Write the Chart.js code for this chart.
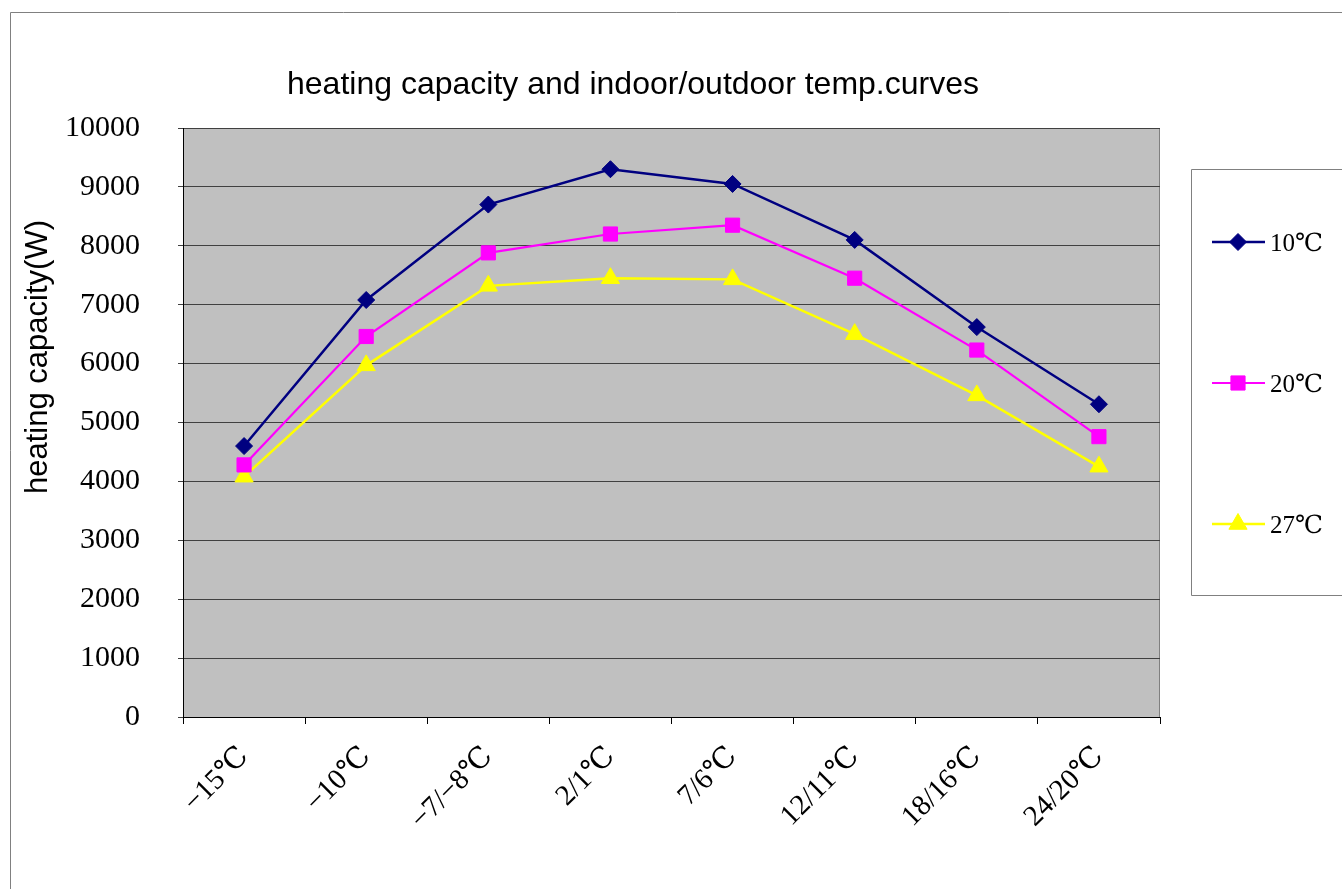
<!DOCTYPE html>
<html>
<head>
<meta charset="utf-8">
<script src="https://cdn.jsdelivr.net/npm/chart.js@4"></script>
<style>
  html, body { margin: 0; padding: 0; background: #fff; }
  #wrap { width: 1342px; height: 889px; position: relative; }
</style>
</head>
<body>
<div id="wrap"><canvas id="chart"></canvas></div>
<script>
const categories = ['−15℃', '−10℃', '−7/−8℃', '2/1℃', '7/6℃', '12/11℃', '18/16℃', '24/20℃'];
const seriesNames = ['10℃', '20℃', '27℃'];
const cap10 = [4600, 7080, 8700, 9300, 9050, 8100, 6620, 5310];
const cap20 = [4280, 6460, 7880, 8200, 8350, 7450, 6230, 4760];
const cap27 = [4080, 5970, 7320, 7450, 7430, 6500, 5460, 4250];
const yTicks = [0, 1000, 2000, 3000, 4000, 5000, 6000, 7000, 8000, 9000, 10000];

const serif = '"Liberation Serif", "DejaVu Serif", serif';
const sans = '"Liberation Sans", Arial, sans-serif';

// frame, plot background, title, axis title and legend box
const decor = {
  id: 'decor',
  beforeDraw(chart) {
    const { ctx, chartArea: a } = chart;
    ctx.save();
    ctx.fillStyle = '#fff';
    ctx.fillRect(0, 0, chart.width, chart.height);
    ctx.strokeStyle = '#808080';
    ctx.lineWidth = 1;
    ctx.beginPath();
    ctx.moveTo(10.5, chart.height);
    ctx.lineTo(10.5, 12.5);
    ctx.lineTo(chart.width, 12.5);
    ctx.stroke();
    ctx.fillStyle = '#c0c0c0';
    ctx.fillRect(a.left, a.top, a.right - a.left, a.bottom - a.top);
    ctx.strokeStyle = '#808080';
    ctx.strokeRect(a.left + 0.5, a.top + 0.5, a.right - a.left - 1, a.bottom - a.top);
    ctx.restore();
  },
  afterDraw(chart) {
    const { ctx } = chart;
    ctx.save();
    ctx.fillStyle = '#000';
    ctx.font = '32px ' + sans;
    ctx.textAlign = 'center';
    ctx.textBaseline = 'middle';
    ctx.fillText('heating capacity and indoor/outdoor temp.curves', 633, 85);

    ctx.save();
    ctx.translate(38, 357);
    ctx.rotate(-Math.PI / 2);
    ctx.font = '31px ' + sans;
    ctx.fillText('heating capacity(W)', 0, 0);
    ctx.restore();

    // legend
    ctx.strokeStyle = '#808080';
    ctx.lineWidth = 1;
    ctx.beginPath();
    ctx.moveTo(chart.width, 169.5);
    ctx.lineTo(1191.5, 169.5);
    ctx.lineTo(1191.5, 595.5);
    ctx.lineTo(chart.width, 595.5);
    ctx.stroke();
    const rows = [242, 383, 524];
    chart.data.datasets.forEach((ds, i) => {
      const y = rows[i];
      ctx.strokeStyle = ds.borderColor;
      ctx.lineWidth = ds.borderWidth;
      ctx.beginPath();
      ctx.moveTo(1212, y);
      ctx.lineTo(1265, y);
      ctx.stroke();
      ctx.fillStyle = ds.pointBackgroundColor;
      ctx.strokeStyle = ds.pointBorderColor;
      ctx.lineWidth = 1;
      Chart.helpers.drawPoint(ctx, { pointStyle: ds.pointStyle, radius: ds.pointRadius, borderWidth: 1, rotation: 0 }, 1238, y);
      ctx.fillStyle = '#000';
      ctx.font = '25px ' + serif;
      ctx.textAlign = 'left';
      ctx.fillText(ds.label, 1270, y + 2);
    });
    ctx.restore();
  }
};

function series(label, data, color, style, radius, width) {
  return {
    label, data,
    borderColor: color,
    backgroundColor: color,
    borderWidth: width,
    pointStyle: style,
    pointRadius: radius,
    pointHoverRadius: radius,
    pointBackgroundColor: color,
    pointBorderColor: color,
    pointBorderWidth: 1,
    tension: 0
  };
}

new Chart(document.getElementById('chart'), {
  type: 'line',
  data: {
    labels: categories,
    datasets: [
      series(seriesNames[0], cap10, '#000080', 'rectRot', 8.5, 2.5),
      series(seriesNames[1], cap20, '#ff00ff', 'rect', 10, 2.2),
      series(seriesNames[2], cap27, '#ffff00', 'triangle', 10.5, 2.5)
    ]
  },
  options: {
    responsive: true,
    maintainAspectRatio: false,
    animation: false,
    layout: { padding: { left: 10, top: 128, right: 182, bottom: 22 } },
    plugins: {
      legend: { display: false },
      title: { display: false },
      tooltip: { enabled: false }
    },
    scales: {
      x: {
        offset: true,
        grid: {
          offset: true,
          drawOnChartArea: false,
          drawTicks: true,
          tickLength: 7,
          color: '#000'
        },
        border: { color: '#000', width: 1 },
        ticks: {
          maxRotation: 45,
          minRotation: 45,
          padding: 16,
          color: '#000',
          font: { family: serif, size: 29 }
        },
        afterFit(scale) { scale.height = 150; }
      },
      y: {
        min: 0,
        max: 10000,
        afterBuildTicks(scale) { scale.ticks = yTicks.map(v => ({ value: v })); },
        grid: {
          color: '#404040',
          lineWidth: 1,
          drawTicks: true,
          tickLength: 5
        },
        border: { color: '#000', width: 1 },
        ticks: {
          padding: 38,
          color: '#000',
          font: { family: serif, size: 30 },
          callback: v => String(v)
        },
        afterFit(scale) { scale.width = 173; }
      }
    }
  },
  plugins: [decor]
});
</script>
</body>
</html>
